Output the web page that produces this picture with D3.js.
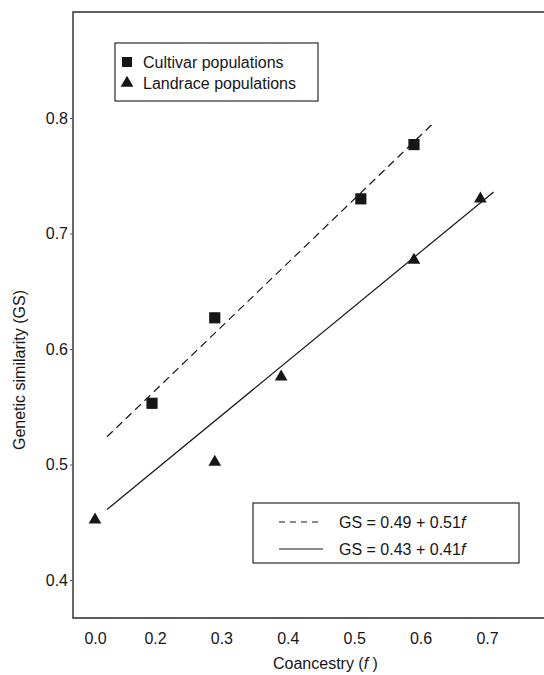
<!DOCTYPE html>
<html>
<head>
<meta charset="utf-8">
<script src="https://cdn.jsdelivr.net/npm/d3@7"></script>
<style>
  body { margin: 0; background: #fff; }
  svg { display: block; font-family: "Liberation Sans", Arial, Helvetica, sans-serif; }
</style>
</head>
<body>
<div id="chart"></div>
<script>
'use strict'

// tick labels
const fTicks = [0.0, 0.2, 0.3, 0.4, 0.5, 0.6, 0.7];
const gsTicks = [0.4, 0.5, 0.6, 0.7, 0.8];

// points
const cultivarF = [0.19, 0.29, 0.51, 0.59];
const cultivarGS = [0.553, 0.627, 0.730, 0.777];
const landraceF = [0.0, 0.29, 0.39, 0.59, 0.69];
const landraceGS = [0.452, 0.502, 0.576, 0.677, 0.730];

// fitted lines, end points as drawn
const cultivarFitF = [0.04, 0.62];
const cultivarFitGS = [0.524, 0.796];
const landraceFitF = [0.04, 0.71];
const landraceFitGS = [0.461, 0.736];

const legendSeries = ['Cultivar populations', 'Landrace populations'];
const legendFits = ['GS = 0.49 + 0.51', 'GS = 0.43 + 0.41'];

const W = 544, H = 675;
const frameLeft = 73, frameTop = 12, frameBottom = 618;
const ink = '#161616';

// the x axis is broken between 0.0 and 0.2
const x = d3.scaleLinear().domain([0, 0.2, 0.7]).range([95, 155, 487]);
const y = d3.scaleLinear().domain([0.4, 0.8]).range([580, 118]);

const svg = d3.select('#chart').append('svg')
    .attr('width', W)
    .attr('height', H);

// frame (right side runs off the page)
svg.append('path')
    .attr('d', `M${W},${frameTop}H${frameLeft}V${frameBottom}H${W}`)
    .attr('fill', 'none')
    .attr('stroke', '#2a2a2a')
    .attr('stroke-width', 1.4);

const yAxis = svg.append('g')
    .attr('transform', `translate(${frameLeft},0)`)
    .call(d3.axisLeft(y).tickValues(gsTicks).tickFormat(d3.format('.1f'))
        .tickSizeInner(3).tickSizeOuter(0).tickPadding(2));
yAxis.select('.domain').remove();
yAxis.selectAll('line').attr('stroke', '#555');
yAxis.selectAll('text').attr('font-size', 16).attr('fill', ink)
    .attr('font-family', '"Liberation Sans", Arial, sans-serif');

const xAxis = svg.append('g')
    .attr('transform', `translate(0,${frameBottom})`)
    .call(d3.axisBottom(x).tickValues(fTicks).tickFormat(d3.format('.1f'))
        .tickSize(0).tickPadding(15));
xAxis.select('.domain').remove();
xAxis.selectAll('text').attr('font-size', 16).attr('fill', ink)
    .attr('font-family', '"Liberation Sans", Arial, sans-serif');

// axis titles
const xTitle = svg.append('text')
    .attr('x', 273)
    .attr('y', 669)
    .attr('font-size', 16)
    .attr('fill', ink);
xTitle.append('tspan').text('Coancestry (');
xTitle.append('tspan').attr('font-style', 'italic').text('f');
xTitle.append('tspan').text(' )');

svg.append('text')
    .attr('transform', 'translate(25,370) rotate(-90)')
    .attr('text-anchor', 'middle')
    .attr('font-size', 16)
    .attr('fill', ink)
    .text('Genetic similarity (GS)');

// fit lines
const fitLine = (fs, gs) => d3.line()(fs.map((f, i) => [x(f), y(gs[i])]));

svg.append('path')
    .attr('d', fitLine(cultivarFitF, cultivarFitGS))
    .attr('fill', 'none')
    .attr('stroke', ink)
    .attr('stroke-width', 1.2)
    .attr('stroke-dasharray', '8,5');

svg.append('path')
    .attr('d', fitLine(landraceFitF, landraceFitGS))
    .attr('fill', 'none')
    .attr('stroke', ink)
    .attr('stroke-width', 1.2);

// markers
const square = d3.symbol().type(d3.symbolSquare).size(125);
const triangle = d3.symbol().type(d3.symbolTriangle).size(70);

svg.selectAll('.cultivar')
    .data(cultivarF.map((f, i) => ({f: f, gs: cultivarGS[i]})))
    .enter().append('path')
    .attr('class', 'cultivar')
    .attr('d', square)
    .attr('transform', d => `translate(${x(d.f)},${y(d.gs)})`)
    .attr('fill', ink);

svg.selectAll('.landrace')
    .data(landraceF.map((f, i) => ({f: f, gs: landraceGS[i]})))
    .enter().append('path')
    .attr('class', 'landrace')
    .attr('d', triangle)
    .attr('transform', d => `translate(${x(d.f)},${y(d.gs)})`)
    .attr('fill', ink);

// legend, top left
const leg1 = svg.append('g');
leg1.append('rect')
    .attr('x', 115).attr('y', 43)
    .attr('width', 203).attr('height', 58)
    .attr('fill', '#fff')
    .attr('stroke', '#2a2a2a')
    .attr('stroke-width', 1.2);

leg1.selectAll('.row')
    .data(legendSeries)
    .enter().append('g')
    .attr('class', 'row')
    .attr('transform', (d, i) => `translate(127,${62 + i * 21})`)
    .each(function(d, i) {
        const g = d3.select(this);
        g.append('path')
            .attr('d', i === 0 ? d3.symbol().type(d3.symbolSquare).size(100)() : triangle())
            .attr('fill', ink);
        g.append('text')
            .attr('x', 16)
            .attr('y', 6)
            .attr('font-size', 16)
            .attr('fill', ink)
            .text(d);
    });

// legend, bottom right
const leg2 = svg.append('g');
leg2.append('rect')
    .attr('x', 253).attr('y', 503)
    .attr('width', 266).attr('height', 60)
    .attr('fill', '#fff')
    .attr('stroke', '#2a2a2a')
    .attr('stroke-width', 1.2);

leg2.selectAll('.row')
    .data(legendFits)
    .enter().append('g')
    .attr('class', 'row')
    .attr('transform', (d, i) => `translate(279,${522 + i * 27})`)
    .each(function(d, i) {
        const g = d3.select(this);
        g.append('line')
            .attr('x1', 0).attr('x2', 44)
            .attr('stroke', ink)
            .attr('stroke-width', 1)
            .attr('stroke-dasharray', i === 0 ? '6,5' : null);
        const t = g.append('text')
            .attr('x', 60)
            .attr('y', 6)
            .attr('font-size', 16)
            .attr('fill', ink);
        t.append('tspan').text(d);
        t.append('tspan').attr('font-style', 'italic').text('f');
    });
</script>
</body>
</html>
